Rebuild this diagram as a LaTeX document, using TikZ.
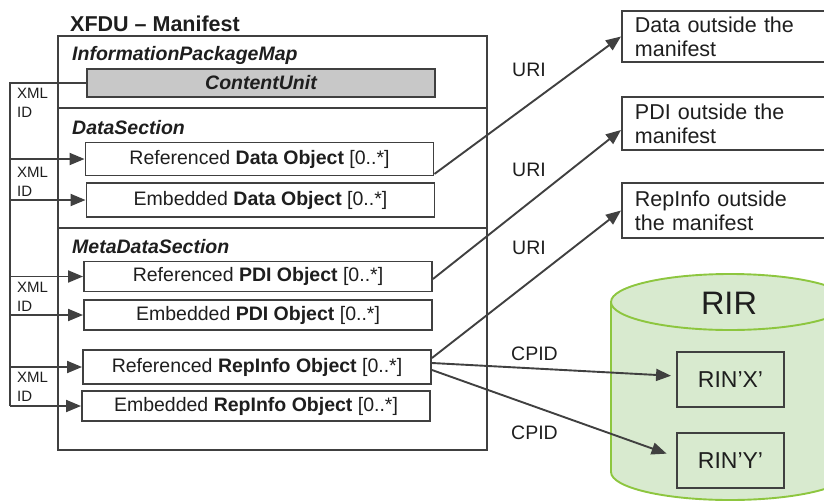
\documentclass[tikz,border=0pt]{standalone}
\usepackage{fontspec}
\setmainfont{Liberation Sans}
\usetikzlibrary{arrows.meta}

\definecolor{linegray}{RGB}{64,64,64}
\definecolor{txtgray}{RGB}{30,30,30}
\definecolor{cugray}{RGB}{200,200,200}
\definecolor{rirfill}{RGB}{216,234,207}
\definecolor{rirline}{RGB}{141,198,63}

\newcommand\objfont{\fontsize{19.5}{22}\selectfont}
\newcommand\bigfont{\fontsize{21.5}{24}\selectfont}
\newcommand\smallfont{\fontsize{15}{19}\selectfont}

\def\rirtop{(730,302) ellipse [x radius=119pt, y radius=28pt]}
\def\rirbody{(611,302) -- (611,472) arc [start angle=180, end angle=360, x radius=119pt, y radius=28pt] -- (849,302)}

\tikzset{
  line/.style={draw=linegray, line width=1.9pt},
  arr/.style={line, -{Triangle[length=15pt,width=12pt]}},
  objbox/.style={line, fill=white, inner sep=0pt, minimum width=348pt, text=txtgray, font=\objfont},
  outbox/.style={line, fill=white, anchor=west, align=left, text width=190pt, inner xsep=13pt, inner ysep=0pt, text=txtgray, font=\bigfont},
  sect/.style={anchor=base west, inner sep=0pt, text=txtgray, font=\objfont\bfseries\itshape},
  lbl/.style={anchor=west, inner sep=0pt, text=txtgray, font=\objfont},
  xmlid/.style={anchor=west, align=left, inner sep=0pt, text=txtgray, font=\smallfont},
  rinbox/.style={line, inner sep=0pt, minimum width=107pt, minimum height=55pt, text=txtgray, font=\fontsize{23}{26}\selectfont},
}

\begin{document}
\begin{tikzpicture}[x=1pt,y=-1pt]
\useasboundingbox (0,0) rectangle (824,501);

% manifest frame, split in three sections
\node[line, inner sep=0pt, minimum width=429pt, minimum height=414pt] (manifest) at (272.5,243) {};
\draw[line] (58,108) -- (487,108);
\draw[line] (58,228) -- (487,228);
\node[anchor=base west, inner sep=0pt, text=txtgray, font=\bigfont\bfseries] (title) at (70,31) {XFDU -- Manifest};

\node[sect] (ipm) at (72,60) {InformationPackageMap};
\node[sect] (dsec) at (72,134) {DataSection};
\node[sect] (mdsec) at (72,253) {MetaDataSection};

\node[objbox, fill=cugray, minimum height=28pt, font=\objfont\bfseries\itshape] (cu) at (261,83) {ContentUnit};
\node[objbox, minimum height=33pt] (rdata) at (259.5,159) {Referenced \textbf{Data Object} [0..*]};
\node[objbox, minimum height=34pt] (edata) at (260.5,200) {Embedded \textbf{Data Object} [0..*]};
\node[objbox, minimum height=30pt] (rpdi) at (258,276.5) {Referenced \textbf{PDI Object} [0..*]};
\node[objbox, minimum height=30pt] (epdi) at (258,315) {Embedded \textbf{PDI Object} [0..*]};
\node[objbox, minimum height=34pt] (rrep) at (257,367) {Referenced \textbf{RepInfo Object} [0..*]};
\node[objbox, minimum height=30pt] (erep) at (256,406) {Embedded \textbf{RepInfo Object} [0..*]};

% XML ID links on the left
\node[xmlid] (xml1) at (17,103) {XML\\ID};
\node[xmlid] (xml2) at (17,182) {XML\\ID};
\node[xmlid] (xml3) at (17,297) {XML\\ID};
\node[xmlid] (xml4) at (17,387) {XML\\ID};
\coordinate (rail) at (10,83);
\draw[line] (cu.west) -- (rail) -- (rail |- erep.west);
\foreach \b in {rdata,edata,rpdi,epdi,rrep,erep}
  \draw[arr] (rail |- \b.west) -- (\b.west);

% things outside the manifest
\node[outbox, minimum height=51pt] (dout) at (621,36.5) {Data outside the\\manifest};
\node[outbox, minimum height=53pt] (pout) at (621,123.5) {PDI outside the\\manifest};
\node[outbox, minimum height=55pt] (rout) at (621,210.5) {RepInfo outside\\the manifest};

% RIR drum
\fill[rirfill] \rirbody -- cycle;
\draw[rirline, line width=1.9pt] \rirbody;
\draw[rirline, line width=1.9pt, fill=rirfill] \rirtop;
\node[text=txtgray, font=\fontsize{32.5}{36}\selectfont] (rir) at (729,303) {RIR};
\node[rinbox] (rinx) at (730.5,379.5) {RIN’X’};
\node[rinbox] (riny) at (730.5,460.5) {RIN’Y’};

\node[lbl] (uri1) at (512,70) {URI};
\node[lbl] (uri2) at (512,170) {URI};
\node[lbl] (uri3) at (512,248) {URI};
\node[lbl] (cpid1) at (511,354) {CPID};
\node[lbl] (cpid2) at (511,433) {CPID};

\draw[arr] ([yshift=2.5pt]rdata.south east) -- (dout.west);
\draw[arr] ([yshift=-2.5pt]rpdi.east) -- ([yshift=-6.5pt]pout.west);
\draw[arr] ([yshift=9pt]rrep.east) -- (rout.west);
\draw[arr, shorten >=5pt] ([yshift=4pt]rrep.east) -- ([yshift=3.5pt]rinx.west);
\draw[arr, shorten >=10pt] ([yshift=-3pt]rrep.east) -- ([yshift=3.5pt]riny.west);
\end{tikzpicture}
\end{document}
